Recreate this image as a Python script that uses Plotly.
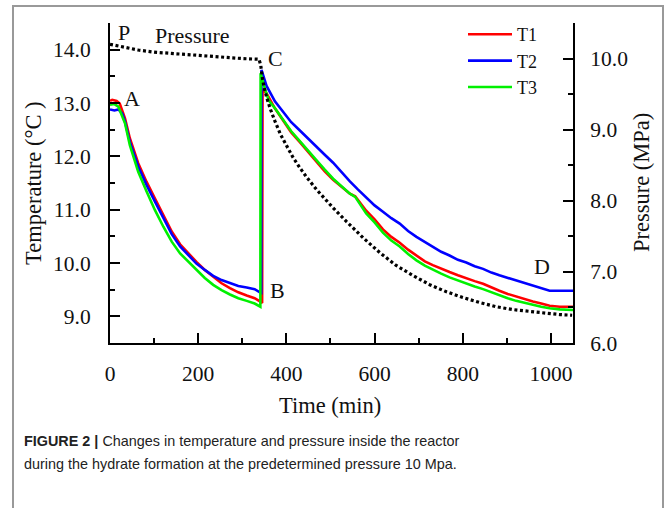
import plotly.graph_objects as go

# ---------------- data ----------------
t1_time = [0, 5, 15, 22, 34, 45, 64, 83, 102, 121, 140, 159, 178, 196, 215, 234, 253, 272, 291, 310, 328, 340, 345,
           346, 355, 374, 393, 411, 430, 449, 468, 487, 506, 525, 544, 556, 568, 581, 600, 619, 638, 657, 676, 695,
           714, 732, 751, 770, 789, 808, 827, 846, 865, 883, 902, 921, 940, 959, 978, 997, 1020, 1050]
t1_vals = [13.04, 13.06, 13.04, 12.99, 12.71, 12.34, 11.87, 11.52, 11.21, 10.90, 10.59, 10.35, 10.18, 10.02, 9.87,
           9.74, 9.62, 9.53, 9.45, 9.39, 9.34, 9.28, 9.25,
           13.25, 13.18, 12.90, 12.66, 12.45, 12.27, 12.08, 11.90, 11.72, 11.56, 11.43, 11.30, 11.25, 11.12, 10.98,
           10.82, 10.63, 10.49, 10.38, 10.25, 10.14, 10.03, 9.96, 9.89, 9.83, 9.77, 9.71, 9.66, 9.61, 9.54, 9.48,
           9.42, 9.37, 9.32, 9.28, 9.24, 9.20, 9.18, 9.18]

t2_time = [0, 10, 19, 28, 34, 45, 64, 83, 102, 121, 140, 159, 178, 196, 215, 234, 253, 272, 291, 310, 328, 340, 343,
           343.5, 355, 374, 393, 411, 430, 449, 468, 487, 506, 525, 544, 562, 581, 600, 619, 638, 657, 676, 695, 714,
           732, 751, 770, 789, 808, 827, 846, 865, 883, 902, 921, 940, 959, 978, 997, 1020, 1050]
t2_vals = [12.88, 12.86, 12.88, 12.80, 12.65, 12.27, 11.81, 11.46, 11.15, 10.84, 10.54, 10.31, 10.15, 9.99, 9.87,
           9.76, 9.68, 9.62, 9.57, 9.54, 9.51, 9.45, 9.44,
           13.62, 13.32, 13.03, 12.82, 12.64, 12.49, 12.33, 12.19, 12.03, 11.88, 11.70, 11.53, 11.38, 11.23, 11.08,
           10.96, 10.84, 10.74, 10.60, 10.49, 10.39, 10.30, 10.21, 10.14, 10.06, 10.01, 9.94, 9.89, 9.82, 9.77, 9.72,
           9.67, 9.62, 9.57, 9.52, 9.48, 9.48, 9.48]

t3_time = [0, 10, 19, 34, 45, 64, 83, 102, 121, 140, 159, 178, 196, 215, 234, 253, 272, 291, 310, 328, 341,
           341.5, 350, 360, 374, 393, 411, 430, 449, 468, 487, 506, 525, 544, 556, 568, 581, 600, 619, 638, 657, 676,
           695, 714, 732, 751, 770, 789, 808, 827, 846, 865, 883, 902, 921, 940, 959, 978, 997, 1020, 1050]
t3_vals = [12.97, 12.98, 12.93, 12.62, 12.21, 11.71, 11.34, 10.99, 10.68, 10.40, 10.18, 10.02, 9.87, 9.72, 9.59,
           9.49, 9.41, 9.34, 9.29, 9.24, 9.18,
           13.56, 13.30, 13.05, 12.90, 12.68, 12.47, 12.29, 12.10, 11.93, 11.75, 11.58, 11.44, 11.30, 11.24, 11.08,
           10.93, 10.76, 10.57, 10.42, 10.31, 10.17, 10.05, 9.95, 9.87, 9.80, 9.73, 9.67, 9.62, 9.56, 9.51, 9.45,
           9.39, 9.34, 9.29, 9.25, 9.21, 9.18, 9.15, 9.13, 9.12]

p_time = [0, 30, 64, 100, 140, 180, 215, 260, 300, 338, 342, 345, 350, 356, 363, 374, 387, 400, 415, 430, 445, 468,
          491, 506, 536, 574, 612, 649, 687, 725, 763, 800, 838, 876, 913, 951, 989, 1020, 1048]
p_vals = [10.20, 10.16, 10.12, 10.09, 10.07, 10.05, 10.04, 10.02, 10.00, 9.99, 9.90, 9.75, 9.58, 9.44, 9.30, 9.12,
          8.93, 8.78, 8.61, 8.47, 8.34, 8.16, 8.00, 7.90, 7.71, 7.48, 7.27, 7.09, 6.95, 6.82, 6.72, 6.64, 6.57, 6.51,
          6.47, 6.44, 6.42, 6.40, 6.39]

series_names = ["T1", "T2", "T3"]
series_colors = ["#ff0000", "#0000ff", "#00f000"]

x_ticks = [0, 200, 400, 600, 800, 1000]
y_ticks = [9.0, 10.0, 11.0, 12.0, 13.0, 14.0]
y2_ticks = [6.0, 7.0, 8.0, 9.0, 10.0]

point_labels = ["P", "A", "B", "C", "D"]
point_x = [31.7, 49.8, 379.4, 374.9, 980.7]
point_y = [14.33, 13.08, 9.48, 13.84, 9.94]

caption_line1 = "<b>FIGURE 2 |</b> Changes in temperature and pressure inside the reactor"
caption_line2 = "during the hydrate formation at the predetermined pressure 10 Mpa."

# ---------------- figure ----------------
SERIF = "Liberation Serif, Times New Roman, serif"
SANS = "Liberation Sans, Arial, sans-serif"
fig = go.Figure()

for name, col, tx, ty in zip(series_names, series_colors, [t1_time, t2_time, t3_time], [t1_vals, t2_vals, t3_vals]):
    fig.add_trace(go.Scatter(x=tx, y=ty, mode="lines", name=name,
                             line=dict(color=col, width=2.6)))

fig.add_trace(go.Scatter(x=p_time, y=p_vals, mode="lines", name="Pressure", yaxis="y2", showlegend=False,
                         line=dict(color="black", width=3.2, dash="3px,2.6px")))

axis_common = dict(showline=True, linecolor="black", linewidth=2, ticks="inside", ticklen=10, tickwidth=2,
                   tickcolor="black", showgrid=False, zeroline=False,
                   tickfont=dict(family=SERIF, size=21.5, color="#111"))

fig.update_layout(
    width=666, height=508,
    margin=dict(l=110, r=93, t=23, b=165),
    paper_bgcolor="white", plot_bgcolor="white",
    xaxis=dict(range=[0, 1050], tickvals=x_ticks, ticktext=[str(v) for v in x_ticks],
               minor=dict(dtick=100, tick0=0, ticks="inside", ticklen=5, tickwidth=2, tickcolor="black"),
               ticklabelstandoff=10, **axis_common),
    yaxis=dict(range=[8.5, 14.5], tickvals=y_ticks, ticktext=[f"{v:.1f}" for v in y_ticks],
               minor=dict(dtick=0.5, tick0=8.5, ticks="inside", ticklen=5, tickwidth=2, tickcolor="black"),
               ticklabelstandoff=13, **axis_common),
    yaxis2=dict(range=[6.0, 10.5], tickvals=y2_ticks, ticktext=[f"{v:.1f}" for v in y2_ticks],
                overlaying="y", side="right",
                minor=dict(dtick=0.5, tick0=6.0, ticks="inside", ticklen=5, tickwidth=2, tickcolor="black"),
                ticklabelstandoff=11, **axis_common),
    legend=dict(x=(463 - 110) / 463, y=(343 - 16) / 320, xanchor="left", yanchor="top",
                bgcolor="rgba(0,0,0,0)", font=dict(family=SERIF, size=18, color="#111"), itemwidth=44,
                tracegroupgap=0),
    showlegend=True,
)

ann = []
for lab, ax_, ay_ in zip(point_labels, point_x, point_y):
    ann.append(dict(x=ax_, y=ay_, xref="x", yref="y", text=lab, showarrow=False,
                    xanchor="center", yanchor="middle",
                    font=dict(family=SERIF, size=22, color="#111")))
ann.append(dict(x=186.9, y=14.27, xref="x", yref="y", text="Pressure", showarrow=False,
                xanchor="center", yanchor="middle",
                font=dict(family=SERIF, size=22, color="#111")))
ann.append(dict(x=(330 - 110) / 463, y=(343 - 405) / 320, xref="paper", yref="paper", text="Time (min)",
                xanchor="center", yanchor="middle",
                showarrow=False, font=dict(family=SERIF, size=22.5, color="#111")))
ann.append(dict(x=(33 - 110) / 463, y=0.5, xref="paper", yref="paper", text="Temperature (°C )",
                xanchor="center", yanchor="middle",
                textangle=-90, showarrow=False, font=dict(family=SERIF, size=22.5, color="#111")))
ann.append(dict(x=(641 - 110) / 463, y=0.5, xref="paper", yref="paper", text="Pressure (MPa)",
                xanchor="center", yanchor="middle",
                textangle=-90, showarrow=False, font=dict(family=SERIF, size=22.5, color="#111")))
for txt, cy in [(caption_line1, 441), (caption_line2, 464)]:
    ann.append(dict(x=(22 - 110) / 463, y=(343 - cy) / 320, xref="paper", yref="paper", text=txt,
                    xanchor="left", yanchor="middle", align="left", showarrow=False,
                    font=dict(family=SANS, size=14.4, color="#222")))
fig.update_layout(annotations=ann)

fig.add_shape(type="rect", xref="paper", yref="paper",
              x0=(13 - 110) / 463, x1=(663 - 110) / 463, y0=(343 - 520) / 320, y1=(343 - 6) / 320,
              line=dict(color="#999999", width=2), fillcolor="rgba(0,0,0,0)", layer="below")

fig.write_html("out.html")
